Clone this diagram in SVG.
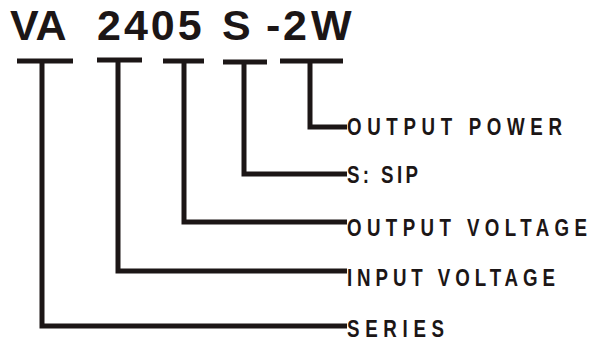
<svg xmlns="http://www.w3.org/2000/svg" width="591" height="342" viewBox="0 0 591 342">
<style>
.t{font-family:"Liberation Sans",Arial,sans-serif;font-weight:bold;font-size:43px;fill:#1c1616}
.l{font-family:"Liberation Sans",Arial,sans-serif;font-weight:bold;font-size:24px;fill:#1c1616}
.c{fill:none;stroke:#1c1616;stroke-width:5;stroke-linejoin:miter;stroke-linecap:butt}
</style>
<rect width="591" height="342" fill="#ffffff"/>
<g id="title">
<text class="t" x="10" y="40">VA</text>
<text class="t" x="97" y="40" letter-spacing="3">2405</text>
<text class="t" x="222" y="40">S</text>
<text class="t" x="266" y="40">-</text>
<text class="t" x="283" y="40">2</text>
<text class="t" x="311" y="40">W</text>
</g>
<g id="connectors">
<path class="c" d="M17 61H73M42 61V326H347"/>
<path class="c" d="M97 60H142M118 60V271H347"/>
<path class="c" d="M163 61H204M184 61V222H347"/>
<path class="c" d="M223 62H267M244 62V174H347"/>
<path class="c" d="M280 61H343M310 61V127H347"/>
</g>
<g id="output-power"><text class="l" transform="translate(347,135) scale(0.78,1)" textLength="275.6" lengthAdjust="spacing">OUTPUT POWER</text></g>
<g id="sip"><text class="l" transform="translate(347,183) scale(0.78,1)" textLength="91" lengthAdjust="spacing">S: SIP</text></g>
<g id="output-voltage"><text class="l" transform="translate(347,236) scale(0.78,1)" textLength="307.7" lengthAdjust="spacing">OUTPUT VOLTAGE</text></g>
<g id="input-voltage"><text class="l" transform="translate(347,286) scale(0.78,1)" textLength="266.7" lengthAdjust="spacing">INPUT VOLTAGE</text></g>
<g id="series"><text class="l" transform="translate(347,337) scale(0.78,1)" textLength="124.4" lengthAdjust="spacing">SERIES</text></g>
</svg>
